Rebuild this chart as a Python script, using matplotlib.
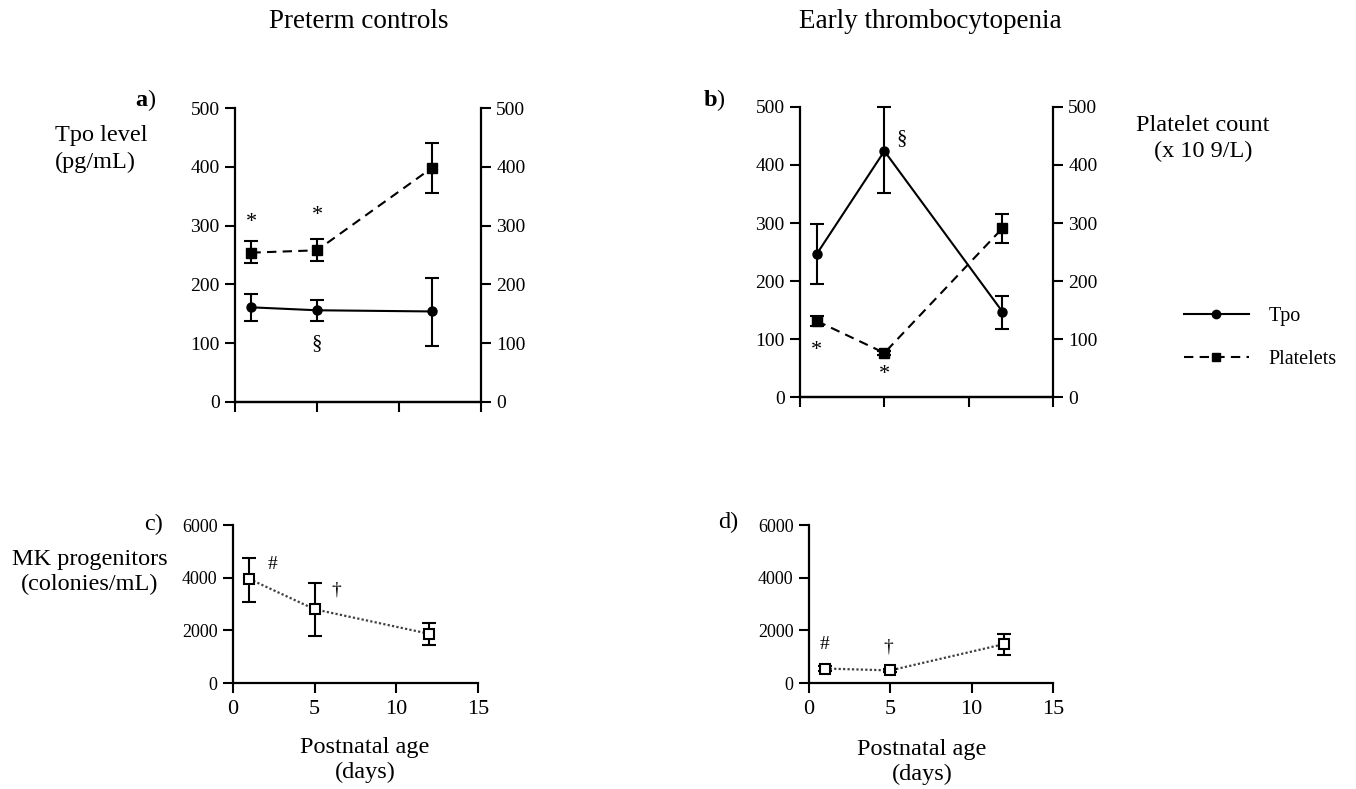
import matplotlib
matplotlib.use("Agg")
import matplotlib.pyplot as plt
from matplotlib.lines import Line2D

plt.rcParams['font.family'] = ['Liberation Serif', 'DejaVu Serif']
plt.rcParams['mathtext.fontset'] = 'custom'
plt.rcParams['mathtext.rm'] = 'Liberation Serif'
plt.rcParams['mathtext.bf'] = 'Liberation Serif:bold'

days = [1, 5, 12]

# Panel a: preterm controls
tpo_a = [161, 156, 154]
tpo_a_lo = [137, 138, 95]
tpo_a_hi = [183, 173, 211]
plt_a = [254, 258, 398]
plt_a_lo = [236, 239, 356]
plt_a_hi = [274, 277, 441]

# Panel b: early thrombocytopenia
tpo_b = [247, 424, 147]
tpo_b_lo = [195, 351, 118]
tpo_b_hi = [298, 500, 174]
plt_b = [131, 76, 291]
plt_b_lo = [123, 73, 265]
plt_b_hi = [139, 79, 316]

# Panel c/d: MK progenitors
mk_c = [3950, 2800, 1870]
mk_c_lo = [3080, 1790, 1460]
mk_c_hi = [4760, 3780, 2290]
mk_d = [550, 480, 1480]
mk_d_lo = [470, 420, 1080]
mk_d_hi = [630, 540, 1850]

xticks = [0, 5, 10, 15]
top_yticks = [0, 100, 200, 300, 400, 500]
bot_yticks = [0, 2000, 4000, 6000]

fig = plt.figure(figsize=(13.56, 7.89), dpi=100)

def errs(v, lo, hi):
    return [[a - b for a, b in zip(v, lo)], [b - a for a, b in zip(v, hi)]]

TFS = 14
dash = (0, (4.5, 3))

def unclip(container):
    for art in container.get_children():
        art.set_clip_on(False)

def top_panel(rect, tpo, tlo, thi, pl, plo, phi):
    ax = fig.add_axes(rect)
    ax2 = ax.twinx()
    for a in (ax, ax2):
        a.set_xlim(0, 15)
        a.set_ylim(0, 500)
        a.spines['top'].set_visible(False)
        a.set_yticks(top_yticks)
        a.tick_params(direction='out', length=7, width=1.5, labelsize=TFS, pad=4)
        for s in a.spines.values():
            s.set_linewidth(1.6)
    ax.set_xticks(xticks)
    ax.set_xticklabels([])
    ax.spines['right'].set_visible(False)
    ax2.spines['left'].set_visible(False)
    e1 = ax.errorbar(days, tpo, yerr=errs(tpo, tlo, thi), color='black', lw=1.5,
                     marker='o', ms=6.5, capsize=5, capthick=1.5, elinewidth=1.5)
    e2 = ax2.errorbar(days, pl, yerr=errs(pl, plo, phi), color='black', lw=1.5,
                      ls=dash, marker='s', ms=7, capsize=5, capthick=1.5, elinewidth=1.5)
    unclip(e1)
    unclip(e2)
    return ax, ax2

def bot_panel(rect, v, lo, hi):
    ax = fig.add_axes(rect)
    ax.set_xlim(0, 15)
    ax.set_ylim(0, 6000)
    ax.set_xticks(xticks)
    ax.set_yticks(bot_yticks)
    ax.spines['top'].set_visible(False)
    ax.spines['right'].set_visible(False)
    for s in ax.spines.values():
        s.set_linewidth(1.6)
    ax.tick_params(direction='out', length=7, width=1.5)
    ax.tick_params(axis='y', labelsize=13, pad=4)
    ax.tick_params(axis='x', labelsize=16, pad=5)
    ax.plot(days, v, color='0.25', lw=1.6, ls=(0, (1, 1)))
    ax.errorbar(days, v, yerr=errs(v, lo, hi), color='black', lw=0,
                marker='s', ms=7, mfc='white', mec='black', mew=1.5,
                capsize=5, capthick=1.5, elinewidth=1.5, ecolor='black')
    return ax

axa, axa2 = top_panel([0.1733, 0.4905, 0.1814, 0.3726], tpo_a, tpo_a_lo, tpo_a_hi,
                      plt_a, plt_a_lo, plt_a_hi)
axb, axb2 = top_panel([0.590, 0.4968, 0.1866, 0.3676], tpo_b, tpo_b_lo, tpo_b_hi,
                      plt_b, plt_b_lo, plt_b_hi)
axc = bot_panel([0.1718, 0.1343, 0.1807, 0.2003], mk_c, mk_c_lo, mk_c_hi)
axd = bot_panel([0.5966, 0.1343, 0.180, 0.2003], mk_d, mk_d_lo, mk_d_hi)

# annotations
SFS = 16
axa.text(1, 305, '*', ha='center', va='center', fontsize=SFS)
axa.text(5, 318, '*', ha='center', va='center', fontsize=SFS)
axa.text(5, 100, '§', ha='center', va='center', fontsize=SFS - 1)
axb.text(6.0, 446, '§', ha='center', va='center', fontsize=SFS - 1)
axb.text(1, 80, '*', ha='center', va='center', fontsize=SFS)
axb.text(5, 38, '*', ha='center', va='center', fontsize=SFS)
axc.text(2.4, 4500, '#', ha='center', va='center', fontsize=SFS - 2)
axc.text(6.35, 3550, '†', ha='center', va='center', fontsize=SFS - 2)
axd.text(0.95, 1450, '#', ha='center', va='center', fontsize=SFS - 2)
axd.text(4.9, 1380, '†', ha='center', va='center', fontsize=SFS - 2)

# titles and labels
LFS = 17.5
fig.text(359 / 1356, 1 - 21 / 789, 'Preterm controls', ha='center', va='center', fontsize=19.5)
fig.text(930 / 1356, 1 - 21 / 789, 'Early thrombocytopenia', ha='center', va='center', fontsize=19.5)
fig.text(135 / 1356, 1 - 100 / 789, r'$\mathbf{a}$)', ha='left', va='center', fontsize=LFS)
fig.text(703 / 1356, 1 - 100 / 789, r'$\mathbf{b}$)', ha='left', va='center', fontsize=LFS)
fig.text(144 / 1356, 1 - 524 / 789, 'c)', ha='left', va='center', fontsize=LFS)
fig.text(718 / 1356, 1 - 522 / 789, 'd)', ha='left', va='center', fontsize=LFS)
fig.text(55 / 1356, 1 - 149 / 789, 'Tpo level\n(pg/mL)', ha='left', va='center',
         fontsize=LFS, linespacing=1.35)
fig.text(1203 / 1356, 1 - 139 / 789, 'Platelet count\n(x 10 9/L)', ha='center', va='center',
         fontsize=LFS, linespacing=1.3)
fig.text(90 / 1356, 1 - 572 / 789, 'MK progenitors\n(colonies/mL)', ha='center', va='center',
         fontsize=LFS, linespacing=1.25)
fig.text(365 / 1356, 1 - 760 / 789, 'Postnatal age\n(days)', ha='center', va='center',
         fontsize=LFS, linespacing=1.25)
fig.text(922 / 1356, 1 - 762 / 789, 'Postnatal age\n(days)', ha='center', va='center',
         fontsize=LFS, linespacing=1.25)

# legend
h1 = Line2D([], [], color='black', lw=1.5, marker='o', ms=6)
h2 = Line2D([], [], color='black', lw=1.5, ls=dash, marker='s', ms=6)
fig.legend([h1, h2], ['Tpo', 'Platelets'], loc='center left',
           bbox_to_anchor=(1166 / 1356, 1 - 338 / 789), frameon=False,
           handlelength=3.2, fontsize=14.5, labelspacing=1.15, handletextpad=1.0)

fig.savefig('out.png', dpi=100)
